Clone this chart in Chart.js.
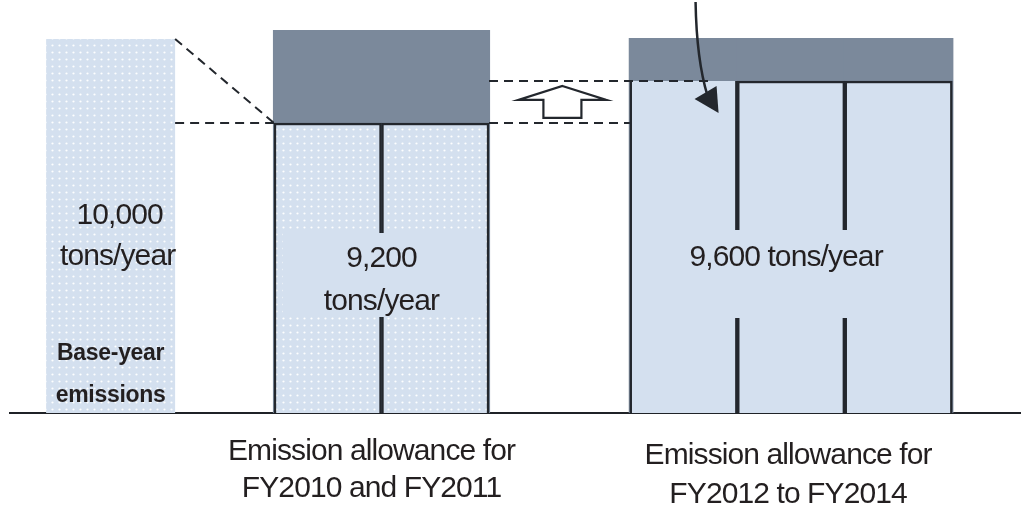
<!DOCTYPE html>
<html><head><meta charset="utf-8">
<script src="https://cdn.jsdelivr.net/npm/chart.js@4"></script>
<style>html,body{margin:0;padding:0;background:#fff;}canvas{display:block;}</style>
</head><body>
<canvas id="c" width="1021" height="511"></canvas>
<script>
// ---------------- data ----------------
const columns    = ['Base year', 'FY2010', 'FY2011', 'FY2012', 'FY2013', 'FY2014'];
const slotX      = [-2.02, 0, 1, 3.31, 4.31, 5.31];             // column position on the x axis (year slots)
const emissions  = [10000, 9200, 9200, 9600, 9600, 9600];      // tons/year
const capLevel   = [null, 10085, 10085, 10010, 10010, 10010];  // top of grey band (≈ base-year level)
const valueTexts = [['10,000', 'tons/year'], ['9,200', 'tons/year'], ['9,600 tons/year']];
const baseTexts  = ['Base-year', 'emissions'];
const groupTexts = [['Emission allowance for', 'FY2010 and FY2011'], ['Emission allowance for', 'FY2012 to FY2014']];

// ---------------- styles ----------------
const LIGHT = '#d4e0ef', GREY = '#7b899b', DARK = '#23272d', TEXT = '#231f20';
const FONT = '"Liberation Sans", Arial, sans-serif';

const canvas = document.getElementById('c');
const mainCtx = canvas.getContext('2d');
const pc = document.createElement('canvas'); pc.width = 7; pc.height = 7;
const pg = pc.getContext('2d');
pg.fillStyle = LIGHT; pg.fillRect(0, 0, 7, 7);
pg.fillStyle = 'rgba(255,255,255,0.95)'; pg.beginPath(); pg.arc(3.5, 3.5, 1.1, 0, Math.PI * 2); pg.fill();
const DOTTED = mainCtx.createPattern(pc, 'repeat');

const pts = (idx, arr) => idx.map(i => ({x: slotX[i], y: arr[i]}));
const dash = (data) => ({type: 'line', data, borderColor: DARK, borderWidth: 2, borderDash: [9, 6],
  pointRadius: 0, fill: false, tension: 0, order: 0});

const annot = {
  id: 'annot',
  afterDatasetsDraw(chart) {
    const {ctx, scales: {x, y}} = chart;
    const base = y.getPixelForValue(y.min);
    const px = v => x.getPixelForValue(v);
    ctx.save();
    // plain label boxes over the dividers
    ctx.fillStyle = LIGHT;
    let l = px(slotX[1] - 0.5) + 9, r = px(slotX[2] + 0.5) - 3;
    ctx.fillRect(l, base - 180, r - l, 84);
    l = px(slotX[3] - 0.5) + 8; r = px(slotX[5] + 0.5) - 5;
    ctx.fillRect(l, base - 183, r - l, 88);

    ctx.fillStyle = TEXT; ctx.textAlign = 'center'; ctx.textBaseline = 'alphabetic';
    ctx.font = '30px ' + FONT;
    ctx.letterSpacing = '-0.9px';
    const c0 = px(slotX[0]), c1 = (px(slotX[1]) + px(slotX[2])) / 2, c2 = px(slotX[4]);
    ctx.fillText(valueTexts[0][0], c0 + 9, base - 189);
    ctx.fillText(valueTexts[0][1], c0 + 7, base - 148);
    ctx.fillText(valueTexts[1][0], c1, base - 146);
    ctx.fillText(valueTexts[1][1], c1, base - 103);
    ctx.fillText(valueTexts[2][0], c2 - 5, base - 147);
    ctx.fillText(groupTexts[0][0], c1 - 10, base + 47);
    ctx.fillText(groupTexts[0][1], c1 - 10, base + 84);
    ctx.fillText(groupTexts[1][0], c2 - 3, base + 51);
    ctx.fillText(groupTexts[1][1], c2 - 3, base + 90);
    ctx.font = 'bold 23px ' + FONT;
    ctx.letterSpacing = '-0.3px';
    ctx.fillText(baseTexts[0], c0, base - 53);
    ctx.fillText(baseTexts[1], c0, base - 11);
    ctx.letterSpacing = '0px';

    // hollow up arrow between the two dashed levels
    const ax = (px(slotX[2] + 0.5) + px(slotX[3] - 0.5)) / 2 + 3;
    const yt = y.getPixelForValue(emissions[3]) + 5, yb = y.getPixelForValue(emissions[1]) - 5;
    const sh = yt + 14;
    ctx.beginPath();
    ctx.moveTo(ax, yt); ctx.lineTo(ax + 44, sh); ctx.lineTo(ax + 19, sh); ctx.lineTo(ax + 19, yb);
    ctx.lineTo(ax - 19, yb); ctx.lineTo(ax - 19, sh); ctx.lineTo(ax - 44, sh); ctx.closePath();
    ctx.fillStyle = '#fff'; ctx.fill();
    ctx.strokeStyle = DARK; ctx.lineWidth = 2.2; ctx.lineJoin = 'miter'; ctx.stroke();

    // curved arrow pointing into FY2012
    const sx = px(slotX[3]) + 12, top = chart.chartArea.top;
    ctx.beginPath();
    ctx.moveTo(sx, top + 2);
    ctx.quadraticCurveTo(sx + 1, top + 60, sx + 12, top + 96);
    ctx.lineWidth = 2.5; ctx.stroke();
    ctx.beginPath();
    ctx.moveTo(sx - 1, top + 99); ctx.lineTo(sx + 21, top + 86); ctx.lineTo(sx + 23, top + 113); ctx.closePath();
    ctx.fillStyle = DARK; ctx.fill();
    ctx.restore();
  }
};

new Chart(canvas, {
  type: 'bar',
  data: {
    datasets: [
      dash([{x: slotX[0] + 0.6, y: emissions[0]}, {x: slotX[1] - 0.5, y: emissions[1]}]),
      dash([{x: slotX[0] + 0.6, y: emissions[1]}, {x: slotX[1] - 0.5, y: emissions[1]}]),
      dash([{x: slotX[2] + 0.5, y: emissions[3]}, {x: slotX[3] + 0.27, y: emissions[3]}]),
      dash([{x: slotX[2] + 0.5, y: emissions[1]}, {x: slotX[3] - 0.5, y: emissions[1]}]),
      {label: 'FY2012-FY2014', data: pts([3, 4, 5], emissions), backgroundColor: LIGHT, borderColor: DARK,
       borderSkipped: false,
       borderWidth: c => c.dataIndex === 0 ? {top: 0, left: 2.5, right: 2.5, bottom: 2.5} : 2.5, order: 3},
      {label: 'FY2010-FY2011', data: pts([1, 2], emissions), backgroundColor: DOTTED, borderColor: DARK,
       borderSkipped: false, borderWidth: 2.5, order: 4},
      {label: 'Base year', data: pts([0], emissions), backgroundColor: DOTTED, borderWidth: 0,
       barPercentage: 1.2, order: 5},
      {label: 'cap', data: pts([1, 2, 3, 4, 5], capLevel), backgroundColor: GREY, borderWidth: 0,
       barPercentage: 1.02, order: 6}
    ]
  },
  options: {
    responsive: false, animation: false, devicePixelRatio: 1,
    layout: {padding: {left: 10, right: 0, top: 0, bottom: 98}},
    datasets: {bar: {grouped: false, categoryPercentage: 1, barPercentage: 1}},
    plugins: {legend: {display: false}, tooltip: {enabled: false}},
    scales: {
      x: {type: 'linear', offset: false, min: -2.956, max: 6.449,
          ticks: {display: false, stepSize: 1, includeBounds: false},
          grid: {display: false, drawTicks: false, offset: false},
          border: {display: true, color: '#1f2227', width: 2}},
      y: {type: 'linear', display: false, min: 6438, max: 10371, beginAtZero: false,
          ticks: {stepSize: 500, includeBounds: false}}
    }
  },
  plugins: [annot]
});
</script>
</body></html>
